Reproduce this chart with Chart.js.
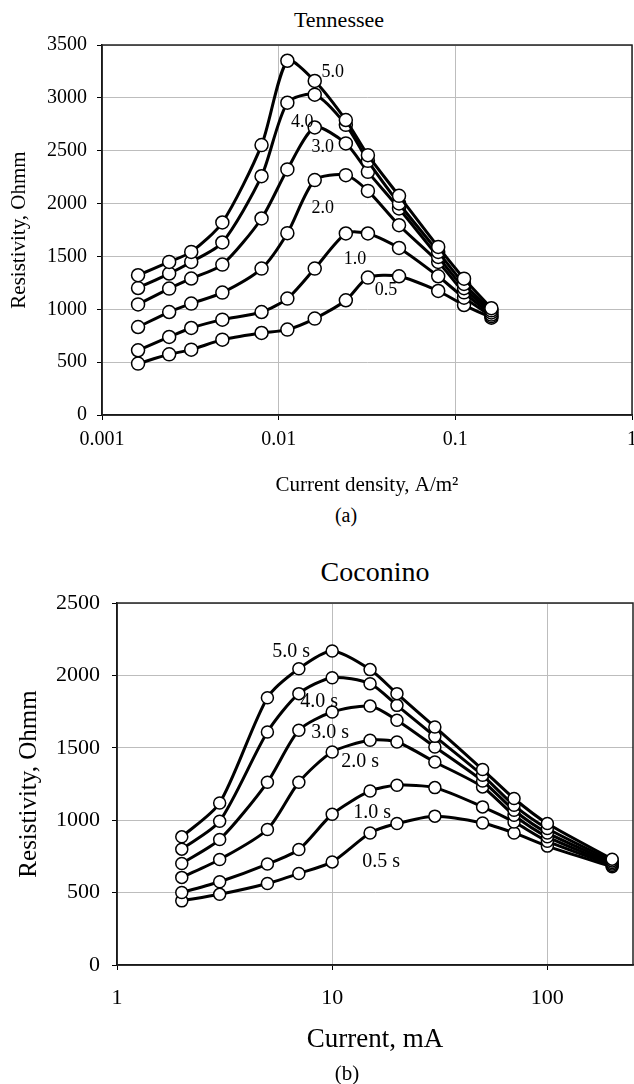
<!DOCTYPE html>
<html>
<head>
<meta charset="utf-8">
<script src="https://cdn.jsdelivr.net/npm/chart.js@4.4.1/dist/chart.umd.min.js"></script>
<style>
  body { margin: 0; background: #fff; width: 634px; height: 1084px; overflow: hidden; position: relative; }
  canvas { position: absolute; left: 0; }
  .cap { position: absolute; text-align: center; font-family: "Liberation Serif", "Times New Roman", serif; color: #000; white-space: nowrap; }
</style>
</head>
<body>
<div class="cap" style="left:189px;width:300px;top:7px;font-size:22px;line-height:26px;">Tennessee</div>
<canvas id="tnChart" width="660" height="500" style="top:0"></canvas>
<div class="cap" style="left:246px;width:200px;top:503px;font-size:20px;line-height:24px;">(a)</div>

<div class="cap" style="left:225px;width:300px;top:555px;font-size:28px;line-height:34px;">Coconino</div>
<canvas id="ccChart" width="660" height="554" style="top:530px"></canvas>
<div class="cap" style="left:247px;width:200px;top:1060px;font-size:21px;line-height:26px;">(b)</div>

<script>
// Tennessee: resistivity vs current density, one curve per pulse time
const tnTimes = ["5.0", "4.0", "3.0", "2.0", "1.0", "0.5"];
const tnDensity = [0.0016, 0.0024, 0.0032, 0.0048, 0.008, 0.0112, 0.016, 0.024, 0.032, 0.048, 0.08, 0.112, 0.16];
const tn50 = [1322, 1448, 1543, 1821, 2553, 3351, 3160, 2790, 2458, 2073, 1590, 1290, 1010];
const tn40 = [1201, 1338, 1448, 1632, 2259, 2954, 3030, 2745, 2404, 2001, 1543, 1240, 990];
const tn30 = [1046, 1196, 1291, 1423, 1859, 2323, 2720, 2569, 2300, 1954, 1495, 1200, 970];
const tn20 = [832, 974, 1054, 1158, 1385, 1720, 2222, 2269, 2120, 1795, 1448, 1160, 950];
const tn10 = [612, 738, 823, 902, 974, 1101, 1385, 1717, 1717, 1580, 1312, 1110, 935];
const tn05 = [486, 574, 618, 713, 776, 808, 912, 1085, 1300, 1312, 1173, 1040, 920];
const tnXTicks = [0.001, 0.01, 0.1, 1];

// Coconino: resistivity vs current
const ccTimes = ["5.0 s", "4.0 s", "3.0 s", "2.0 s", "1.0 s", "0.5 s"];
const ccCurrent = [2, 3, 5, 7, 10, 15, 20, 30, 50, 70, 100, 200];
const cc50 = [885, 1119, 1846, 2046, 2168, 2040, 1874, 1644, 1350, 1150, 977, 731];
const cc40 = [800, 993, 1609, 1874, 1984, 1943, 1793, 1579, 1310, 1103, 943, 719];
const cc30 = [701, 867, 1262, 1621, 1747, 1788, 1690, 1506, 1271, 1069, 912, 708];
const cc20 = [605, 729, 936, 1262, 1471, 1552, 1540, 1402, 1230, 1034, 885, 697];
const cc10 = [501, 575, 697, 798, 1041, 1202, 1241, 1225, 1092, 988, 855, 688];
const cc05 = [443, 488, 563, 632, 712, 912, 977, 1028, 981, 912, 821, 678];
const ccXTicks = [1, 10, 100];

const FONT = '"Liberation Serif", "Times New Roman", serif';
const GRID = "#bdbdbd";

// box round the plot area
const framePlugin = {
    id: "frame",
    beforeDatasetsDraw(chart) {
        const { ctx, chartArea: a } = chart;
        ctx.save();
        ctx.strokeStyle = "#222";
        ctx.lineWidth = 1.5;
        ctx.strokeRect(a.left, a.top, a.right - a.left, a.bottom - a.top);
        ctx.restore();
    },
};

// writes each dataset's label next to one of its points
function seriesTags(tags, font) {
    return {
        id: "seriesTags",
        afterDatasetsDraw(chart) {
            const ctx = chart.ctx;
            ctx.save();
            ctx.font = font;
            ctx.fillStyle = "#000";
            ctx.textAlign = "center";
            ctx.textBaseline = "middle";
            chart.data.datasets.forEach((ds, i) => {
                const t = tags[i];
                const pt = chart.getDatasetMeta(i).data[t.at];
                ctx.fillText(ds.label, pt.x + t.dx, pt.y + t.dy);
            });
            ctx.restore();
        },
    };
}

function makeDatasets(names, xs, series, radius) {
    return series.map((vals, i) => ({
        label: names[i],
        data: xs.map((x, j) => ({ x, y: vals[j] })),
        borderColor: "#000",
        borderWidth: 3,
        tension: 0.25,
        pointRadius: radius,
        pointBackgroundColor: "#fff",
        pointBorderColor: "#000",
        pointBorderWidth: 1.5,
        fill: false,
    }));
}

function createChart(canvasId, s) {
    const ctx = document.getElementById(canvasId).getContext("2d");
    return new Chart(ctx, {
        type: "line",
        data: { datasets: makeDatasets(s.names, s.xs, s.series, s.radius) },
        options: {
            responsive: false,
            animation: false,
            events: [],
            layout: { padding: s.padding },
            plugins: { legend: { display: false }, tooltip: { enabled: false } },
            scales: {
                x: {
                    type: "logarithmic",
                    min: s.xMin,
                    max: s.xMax,
                    afterBuildTicks: (ax) => { ax.ticks = s.xTicks.map((value) => ({ value })); },
                    afterFit: (ax) => { ax.height = s.xHeight; },
                    ticks: {
                        font: { family: FONT, size: s.tickSize },
                        color: "#000",
                        padding: s.xTickPad,
                        maxRotation: 0,
                        autoSkip: false,
                        callback: (v) => String(v),
                    },
                    grid: { color: GRID, lineWidth: 1, tickLength: 5, tickColor: "#000" },
                    border: { color: "#000", width: 1.5 },
                    title: {
                        display: true,
                        text: s.xTitle,
                        font: { family: FONT, size: s.xTitleSize },
                        color: "#000",
                        padding: { top: 0, bottom: s.xTitlePad },
                    },
                },
                y: {
                    min: 0,
                    max: s.yMax,
                    afterFit: (ax) => { ax.width = s.yWidth; },
                    ticks: {
                        stepSize: 500,
                        font: { family: FONT, size: s.tickSize },
                        color: "#000",
                        padding: s.yTickPad,
                        callback: (v) => String(v),
                    },
                    grid: { color: GRID, lineWidth: 1, tickLength: 5, tickColor: "#000" },
                    border: { color: "#000", width: 1.5 },
                    title: {
                        display: true,
                        text: "Resistivity, Ohmm",
                        font: { family: FONT, size: s.yTitleSize },
                        color: "#000",
                        padding: { top: s.yTitlePad, bottom: 0 },
                    },
                },
            },
        },
        plugins: [framePlugin, seriesTags(s.tags, s.tagFont)],
    });
}

createChart("tnChart", {
    names: tnTimes,
    xs: tnDensity,
    series: [tn50, tn40, tn30, tn20, tn10, tn05],
    radius: 6.5,
    xMin: 0.001, xMax: 1, xTicks: tnXTicks, yMax: 3500,
    padding: { top: 45, right: 28, bottom: 0, left: 0 },
    xHeight: 85, yWidth: 102,
    tickSize: 20, xTickPad: 8, yTickPad: 10,
    xTitle: "Current density, A/m²", xTitleSize: 21, xTitlePad: 2,
    yTitleSize: 21, yTitlePad: 7,
    tagFont: "18px " + FONT,
    tags: [
        { at: 6, dx: 18, dy: -9 },
        { at: 5, dx: 15, dy: 20 },
        { at: 6, dx: 8, dy: 20 },
        { at: 6, dx: 8, dy: 28 },
        { at: 8, dx: -13, dy: 26 },
        { at: 8, dx: 18, dy: 13 },
    ],
});

createChart("ccChart", {
    names: ccTimes,
    xs: ccCurrent,
    series: [cc50, cc40, cc30, cc20, cc10, cc05],
    radius: 6,
    xMin: 1, xMax: 250, xTicks: ccXTicks, yMax: 2500,
    padding: { top: 73, right: 27, bottom: 0, left: 0 },
    xHeight: 119, yWidth: 117,
    tickSize: 22, xTickPad: 15, yTickPad: 12,
    xTitle: "Current, mA", xTitleSize: 27, xTitlePad: 28,
    yTitleSize: 25, yTitlePad: 14,
    tagFont: "20px " + FONT,
    tags: [
        { at: 4, dx: -41, dy: 1 },
        { at: 4, dx: -13, dy: 24 },
        { at: 4, dx: -2, dy: 21 },
        { at: 4, dx: 28, dy: 10 },
        { at: 4, dx: 40, dy: -2 },
        { at: 4, dx: 49, dy: 0 },
    ],
});
</script>
</body>
</html>
